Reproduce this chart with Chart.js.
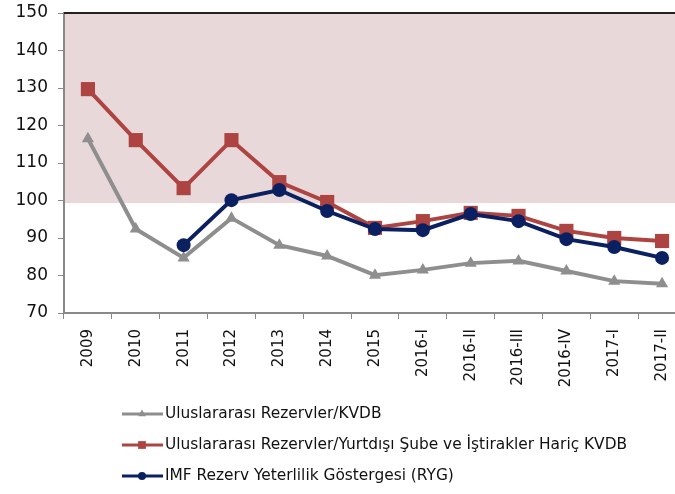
<!DOCTYPE html>
<html>
<head>
<meta charset="utf-8">
<script src="https://cdn.jsdelivr.net/npm/chart.js@4"></script>
<style>
  html, body { margin: 0; padding: 0; overflow: hidden; background: #fff; }
  #kutu { width: 700px; height: 494px; }
</style>
</head>
<body>
<div id="kutu"><canvas id="grafik" width="700" height="494"></canvas></div>
<script>
const donemler = ["2009", "2010", "2011", "2012", "2013", "2014", "2015",
  "2016-I", "2016-II", "2016-III", "2016-IV", "2017-I", "2017-II"];

const rezervKVDB = [116.5, 92.4, 84.7, 95.3, 88.1, 85.2, 80.1, 81.5, 83.3, 83.9, 81.2, 78.5, 77.8];
const rezervHaricKVDB = [129.7, 116.1, 103.3, 116.1, 104.9, 99.6, 92.7, 94.5, 96.7, 95.9, 91.9, 90.0, 89.2];
const imfRYG = [null, null, 88.1, 100.1, 102.8, 97.2, 92.4, 92.1, 96.4, 94.5, 89.7, 87.6, 84.7];

const yEksen = { min: 70, max: 150, adim: 10 };
const bant = { alt: 99.3, ust: 150 };

const seriler = [
  { ad: "IMF Rezerv Yeterlilik Göstergesi (RYG)", veri: imfRYG, renk: "#0a2060", nokta: "circle", r: 7, lr: 4, sira: 0 },
  { ad: "Uluslararası Rezervler/Yurtdışı Şube ve İştirakler Hariç KVDB", veri: rezervHaricKVDB, renk: "#ad4442", nokta: "rect", r: 10, lr: 5.5, sira: 1 },
  { ad: "Uluslararası Rezervler/KVDB", veri: rezervKVDB, renk: "#8e8e8e", nokta: "triangle", r: 7, lr: 4.5, sira: 2 }
];

// legend order as in the reference (gray, red, navy)
const lejantSirasi = [2, 1, 0];

const arkaPlan = {
  id: "arkaPlan",
  beforeDatasetsDraw(chart) {
    const { ctx, chartArea } = chart;
    const y = chart.scales.y;
    const ust = y.getPixelForValue(bant.ust);
    const alt = y.getPixelForValue(bant.alt);
    ctx.save();
    ctx.fillStyle = "#e8d8d9";
    ctx.fillRect(chartArea.left + 1, ust, chartArea.right - chartArea.left, alt - ust);
    ctx.restore();
  },
  afterDraw(chart) {
    const { ctx, chartArea } = chart;
    ctx.save();
    // top border
    ctx.strokeStyle = "#222";
    ctx.lineWidth = 2;
    ctx.beginPath();
    ctx.moveTo(chartArea.left, chartArea.top);
    ctx.lineTo(chartArea.right, chartArea.top);
    ctx.stroke();

    // legend
    const satirlar = [414, 445, 476];
    lejantSirasi.forEach((i, k) => {
      const s = seriler[i];
      const yy = satirlar[k];
      ctx.strokeStyle = s.renk;
      ctx.lineWidth = 3;
      ctx.beginPath();
      ctx.moveTo(122, yy);
      ctx.lineTo(163, yy);
      ctx.stroke();
      ctx.fillStyle = s.renk;
      Chart.helpers.drawPoint(ctx, { pointStyle: s.nokta, radius: s.lr, rotation: 0, borderWidth: 0 }, 142, yy);
      ctx.fillStyle = "#111";
      ctx.font = "15.4px 'DejaVu Sans'";
      ctx.textBaseline = "middle";
      ctx.fillText(s.ad, 165, yy);
    });
    ctx.restore();
  }
};

new Chart(document.getElementById("grafik"), {
  type: "line",
  data: {
    labels: donemler,
    datasets: seriler.map(s => ({
      label: s.ad,
      data: s.veri,
      borderColor: s.renk,
      backgroundColor: s.renk,
      borderWidth: 4,
      pointStyle: s.nokta,
      pointRadius: s.r,
      pointBorderWidth: 0,
      tension: 0,
      order: s.sira
    }))
  },
  options: {
    responsive: false,
    animation: false,
    layout: { padding: { top: 13, right: 14, bottom: 96, left: 0 } },
    plugins: { legend: { display: false }, tooltip: { enabled: false } },
    scales: {
      x: {
        offset: true,
        afterFit(scale) { scale.height = 85; scale.paddingLeft = 0; scale.paddingRight = 0; },
        grid: { offset: true, drawOnChartArea: false, drawTicks: true, tickLength: 6, color: "#898989" },
        border: { color: "#898989", width: 2 },
        ticks: {
          color: "#111",
          font: { family: "DejaVu Sans", size: 15 },
          maxRotation: 90,
          minRotation: 90,
          padding: 10
        }
      },
      y: {
        min: yEksen.min,
        max: yEksen.max,
        afterFit(scale) { scale.width = 64; scale.paddingTop = 0; scale.paddingBottom = 0; },
        grid: { drawOnChartArea: false, drawTicks: true, tickLength: 6, color: "#898989" },
        border: { color: "#898989", width: 2 },
        ticks: {
          stepSize: yEksen.adim,
          color: "#111",
          font: { family: "DejaVu Sans", size: 17 },
          padding: 10
        }
      }
    }
  },
  plugins: [arkaPlan]
});
</script>
</body>
</html>
